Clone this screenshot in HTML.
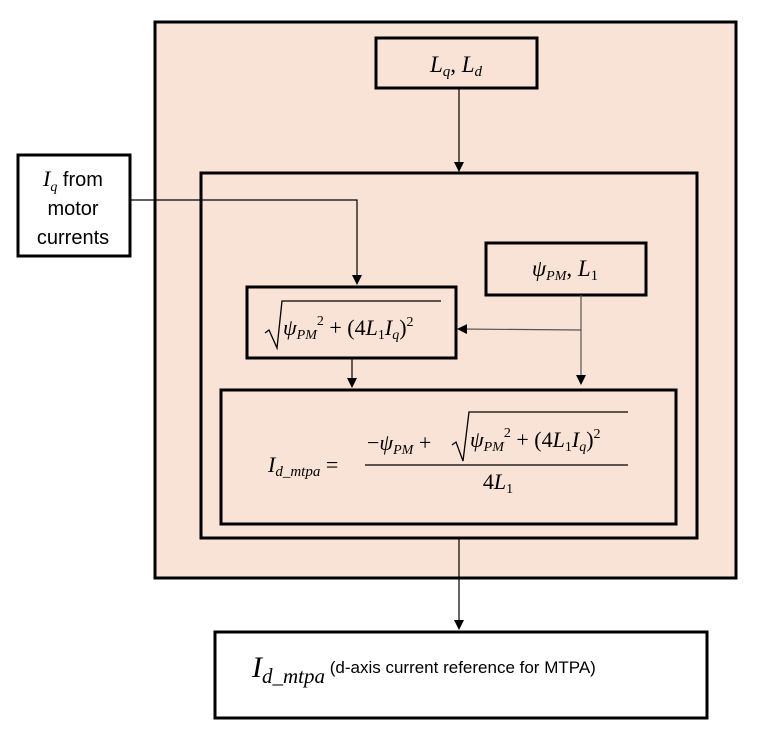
<!DOCTYPE html>
<html><head><meta charset="utf-8"><style>
html,body{margin:0;padding:0;background:#fff;width:760px;height:729px;overflow:hidden}
svg{display:block}
.m{font-family:"Liberation Serif",serif;font-style:italic}
.r{font-family:"Liberation Serif",serif}
.s{font-family:"Liberation Sans",sans-serif}
</style></head><body>
<svg width="760" height="729" viewBox="0 0 760 729" xmlns="http://www.w3.org/2000/svg">
<defs><marker id="a" markerWidth="10" markerHeight="10" refX="9" refY="5" orient="auto" markerUnits="userSpaceOnUse"><path d="M0,0 L10,5 L0,10 z" fill="#000"/></marker></defs>
<rect x="155" y="22" width="581" height="556" fill="#f9e3d6" stroke="#000" stroke-width="3"/>
<rect x="376" y="38" width="161" height="50" fill="#f9e3d6" stroke="#000" stroke-width="3"/>
<text x="456" y="72" text-anchor="middle" class="m" font-size="23">L<tspan font-size="15" dy="4">q</tspan><tspan dy="-4" font-style="normal">, </tspan>L<tspan font-size="15" dy="4">d</tspan></text>
<line x1="459" y1="88" x2="459" y2="171" stroke="#000" stroke-width="1.2" marker-end="url(#a)"/>
<rect x="201" y="173" width="496" height="365" fill="#f9e3d6" stroke="#000" stroke-width="3"/>
<rect x="18" y="155" width="112" height="101" fill="#fff" stroke="#000" stroke-width="3"/>
<text x="73" y="186" text-anchor="middle" font-size="20"><tspan class="m" font-size="22">I</tspan><tspan class="m" font-size="14" dy="5">q</tspan><tspan class="s" dy="-5"> from</tspan></text>
<text x="73" y="215" text-anchor="middle" class="s" font-size="20">motor</text>
<text x="73" y="244" text-anchor="middle" class="s" font-size="20">currents</text>
<polyline points="130,200 357,200 357,284" fill="none" stroke="#000" stroke-width="1.2" marker-end="url(#a)"/>
<rect x="486" y="243" width="160" height="52" fill="#f9e3d6" stroke="#000" stroke-width="3"/>
<text x="565" y="276" text-anchor="middle" class="m" font-size="23">ψ<tspan font-size="14" dy="4">PM</tspan><tspan dy="-4" font-style="normal">, </tspan>L<tspan font-size="15" dy="4" font-style="normal">1</tspan></text>
<rect x="247" y="287" width="209" height="71" fill="#f9e3d6" stroke="#000" stroke-width="3"/>
<path d="M265,333 L269,330 L277,348 L282,301 L441,301" fill="none" stroke="#000" stroke-width="1.3"/>
<text x="283" y="335" class="m" font-size="22">ψ<tspan font-size="14" dy="4">PM</tspan><tspan font-size="14" dy="-14" font-style="normal">2</tspan><tspan dy="10" font-style="normal"> + (4</tspan>L<tspan font-size="14" dy="4" font-style="normal">1</tspan><tspan dy="-4">I</tspan><tspan font-size="14" dy="4">q</tspan><tspan dy="-4" font-style="normal">)</tspan><tspan font-size="14" dy="-9" font-style="normal">2</tspan></text>
<polyline points="581,295 581,384" fill="none" stroke="#555" stroke-width="1.2" marker-end="url(#a)"/>
<line x1="581" y1="330" x2="458" y2="329" stroke="#555" stroke-width="1.2" marker-end="url(#a)"/>
<line x1="352" y1="358" x2="352" y2="387" stroke="#000" stroke-width="1.2" marker-end="url(#a)"/>
<rect x="221" y="390" width="455" height="134" fill="#f9e3d6" stroke="#000" stroke-width="3"/>
<text x="268" y="472" class="m" font-size="22">I<tspan font-size="15" dy="4">d_mtpa</tspan><tspan dy="-4" font-style="normal"> =</tspan></text>
<line x1="365" y1="465" x2="628" y2="465" stroke="#000" stroke-width="1.3"/>
<text x="367" y="450" class="m" font-size="22"><tspan font-style="normal">−</tspan>ψ<tspan font-size="14" dy="4">PM</tspan><tspan dy="-4" font-style="normal"> + </tspan></text>
<path d="M452,445 L456,442 L463,461 L469,412 L628,412" fill="none" stroke="#000" stroke-width="1.3"/>
<text x="470" y="447" class="m" font-size="22">ψ<tspan font-size="14" dy="4">PM</tspan><tspan font-size="14" dy="-14" font-style="normal">2</tspan><tspan dy="10" font-style="normal"> + (4</tspan>L<tspan font-size="14" dy="4" font-style="normal">1</tspan><tspan dy="-4">I</tspan><tspan font-size="14" dy="4">q</tspan><tspan dy="-4" font-style="normal">)</tspan><tspan font-size="14" dy="-9" font-style="normal">2</tspan></text>
<text x="498" y="489" text-anchor="middle" class="m" font-size="22"><tspan font-style="normal">4</tspan>L<tspan font-size="14" dy="4" font-style="normal">1</tspan></text>
<line x1="459" y1="538" x2="459" y2="629" stroke="#000" stroke-width="1.2" marker-end="url(#a)"/>
<rect x="215" y="632" width="492" height="86" fill="#fff" stroke="#000" stroke-width="3"/>
<text x="252" y="677" font-size="30" class="m">I<tspan font-size="21" dy="6">d_mtpa</tspan><tspan class="s" font-style="normal" font-size="17" dy="-10"> (d-axis current reference for MTPA)</tspan></text>
</svg>
</body></html>
